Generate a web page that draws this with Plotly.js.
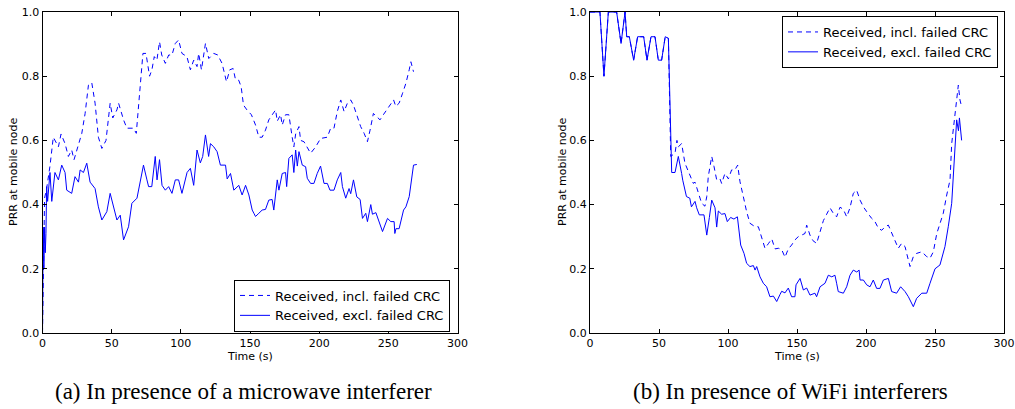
<!DOCTYPE html>
<html>
<head>
<meta charset="utf-8">
<script src="https://cdn.plot.ly/plotly-3.0.1.min.js"></script>
<style>html,body{margin:0;padding:0;background:#fff;}#chart{width:1015px;height:409px;}</style>
</head>
<body>
<div id="chart"></div>
<script>
// ---- (a) microwave interferer ----
const a_excl_t = [0,0.5,1,1.5,2,2.5,3,3.7,5.4,6.7,9,11.5,13.9,16.3,17.5,21.1,23.5,26,27.2,29.6,32,34.4,38,40.4,42.9,46.5,48.9,51.3,53.8,56.2,58.6,62.2,64.6,68.3,70.7,73,75.5,76.7,79,81.5,82.8,84.6,86.4,88.8,91.2,93.6,96,98.4,100.8,104.5,106.9,109.3,111.7,114.1,115.8,117.8,120.1,121.4,123.8,126.2,128.6,132.3,133.5,135.9,138.3,141.9,144.3,146.8,149.2,151.6,152.8,154,156.4,158.8,161.2,163.6,166,167.2,169.7,170.9,173.3,175.7,176.5,178.1,180.5,181.7,183,184.2,185.4,187.8,190.2,191.4,193.8,196.2,198.6,201,203.5,205.9,207.8,210.7,213.1,215.6,216.8,219.2,221.6,222.8,224.8,227.2,229.6,231.3,233.7,234.9,237.3,238.5,241,243.4,245.8,249.4,251.8,254.2,254.7,255.5,257.8,261,262.7,265.1,268.2,270.6];
const a_excl_v = [0,0.33,0.2,0.33,0.25,0.31,0.456,0.41,0.50,0.41,0.50,0.477,0.523,0.50,0.445,0.435,0.487,0.47,0.508,0.50,0.529,0.47,0.45,0.393,0.352,0.378,0.435,0.393,0.352,0.367,0.29,0.331,0.404,0.42,0.477,0.523,0.477,0.456,0.456,0.55,0.477,0.54,0.46,0.445,0.456,0.435,0.477,0.477,0.435,0.50,0.513,0.46,0.57,0.53,0.55,0.617,0.55,0.59,0.58,0.565,0.523,0.523,0.48,0.497,0.445,0.46,0.43,0.46,0.43,0.383,0.373,0.363,0.373,0.383,0.385,0.414,0.416,0.383,0.477,0.445,0.497,0.50,0.456,0.544,0.555,0.50,0.57,0.52,0.565,0.523,0.518,0.482,0.466,0.466,0.497,0.52,0.466,0.466,0.445,0.445,0.477,0.50,0.456,0.42,0.45,0.434,0.477,0.424,0.416,0.357,0.373,0.347,0.40,0.37,0.375,0.347,0.316,0.357,0.347,0.347,0.31,0.325,0.325,0.383,0.393,0.425,0.523,0.525];
const a_incl_t = [0,0.7,1.5,3,5.4,7.8,11.5,13.4,16.3,18.7,21.1,22.8,25.9,28.4,30.8,33.2,35.6,38,40.4,42.9,45.9,48.9,50.8,53.8,55,58.6,61,65.8,67.8,70.7,72.6,74.8,77.4,79.1,80.8,82.7,84.6,86.2,88.8,91.2,93.6,96,98.4,100.8,104.4,106.9,109.3,111.7,112.9,114.9,117.8,120.2,123.8,126.7,129.8,133,135.4,137.8,139.5,141.9,143.6,145.3,147.8,151,154,156.4,158.8,161.2,163.6,166.1,168.5,169.7,172.1,173.3,175.7,178.1,179.3,180.5,181.7,183,185.4,186.6,189,191.4,193.8,197.5,201,205.9,208.3,210.7,213.1,215.6,218,220.4,222.8,224.8,227.7,230,232.5,234.9,236.8,239.2,241.6,244,246.4,248.9,251.3,253.8,255.4,257.8,260.3,262.7,265.1,266.3,268.2];
const a_incl_v = [0,0.3,0.42,0.45,0.52,0.61,0.58,0.62,0.59,0.55,0.57,0.54,0.59,0.622,0.684,0.772,0.78,0.716,0.61,0.575,0.60,0.716,0.67,0.695,0.716,0.664,0.638,0.638,0.622,0.767,0.871,0.871,0.80,0.82,0.861,0.85,0.907,0.866,0.84,0.866,0.866,0.902,0.913,0.871,0.861,0.82,0.85,0.83,0.871,0.82,0.902,0.855,0.871,0.866,0.84,0.783,0.82,0.824,0.79,0.787,0.767,0.71,0.695,0.68,0.648,0.61,0.61,0.632,0.664,0.68,0.695,0.66,0.68,0.648,0.68,0.68,0.638,0.61,0.58,0.62,0.643,0.60,0.596,0.58,0.56,0.58,0.606,0.61,0.638,0.638,0.69,0.726,0.69,0.716,0.726,0.71,0.674,0.643,0.622,0.596,0.632,0.684,0.674,0.664,0.68,0.695,0.71,0.726,0.706,0.716,0.747,0.778,0.82,0.845,0.814];

// ---- (b) WiFi interferers ----
const b_excl_t = [0,7.2,10.1,13.3,19.3,22.5,25.4,26.6,28.5,31.6,34.5,38.9,41.3,44.2,47.1,49.5,51.9,54.5,56.8,59.2,61.6,64,66.4,67.2,69.9,72.3,73.5,76.1,77.3,79.2,82.6,84.6,86.5,88.2,90.6,91.8,93,95.4,97.8,99.5,101.9,104.3,106.8,109.2,111.6,113.5,115.9,118.4,119.6,120.8,123.2,125.6,128,129.3,130.4,132.9,135.3,137.7,138.9,141.3,143.7,146.1,148.5,149.3,152.2,154.6,157,159.4,163,164.2,166.7,170.3,172.7,175.2,177.5,178.7,179.9,183.6,186,188.4,190.8,193.3,195,195.7,198.1,200.5,202.9,205.3,207.7,210.1,212.6,216.2,218.6,222.2,225.1,228.3,230.7,234.3,236.7,240.4,244,246.4,250,253.6,257.2,259.6,262.1,265.7,267,267.7,269.3];
const b_excl_v = [1.0,1.0,0.80,1.0,1.0,0.902,1.0,0.923,0.923,0.85,0.923,0.923,0.85,0.923,0.923,0.85,0.85,0.923,0.918,0.50,0.50,0.55,0.497,0.476,0.425,0.42,0.393,0.41,0.39,0.368,0.368,0.305,0.36,0.414,0.39,0.33,0.38,0.37,0.372,0.347,0.36,0.355,0.362,0.274,0.248,0.217,0.207,0.21,0.196,0.207,0.175,0.155,0.144,0.13,0.113,0.115,0.098,0.12,0.13,0.125,0.14,0.113,0.113,0.15,0.17,0.134,0.14,0.118,0.124,0.113,0.144,0.155,0.18,0.175,0.18,0.155,0.129,0.124,0.144,0.18,0.196,0.19,0.196,0.165,0.165,0.15,0.144,0.165,0.139,0.139,0.165,0.17,0.129,0.124,0.144,0.129,0.113,0.082,0.108,0.124,0.124,0.155,0.20,0.212,0.269,0.331,0.404,0.664,0.63,0.67,0.60];
const b_incl_t = [0,7.2,10.1,13.3,19.3,22.5,25.4,26.6,28.5,31.6,34.5,38.9,41.3,44.2,47.1,49.5,51.9,54.5,56.8,58.5,61.6,63,64,66.4,68.8,72.5,74.9,76.1,78.5,80.9,83.3,84.6,85.7,88.2,89.9,91.8,94.2,95.4,97.8,100.3,102.6,105,107,108.7,111.1,113.5,115.9,119.6,122,124.4,126.8,129.2,131.7,134.1,136.5,138.9,141.3,143.7,146.1,148.5,150.9,153.4,155.8,157,159.4,161.5,164.2,166.7,169.1,171.5,173.9,176.3,178.7,181.2,183.6,186,188.4,190.8,193.2,195.7,198.1,200.5,204.1,206.5,209,211.4,213.8,216.2,218.6,221,223.4,225.8,228.3,230.7,231.9,234.3,236.7,240.4,244,246.4,248.8,251.3,253.6,256,258.5,260.9,262.1,264.5,266.9,268.1,269.3];
const b_incl_v = [1.0,1.0,0.80,1.0,1.0,0.902,1.0,0.923,0.923,0.85,0.923,0.923,0.85,0.923,0.923,0.85,0.85,0.923,0.918,0.55,0.56,0.60,0.58,0.59,0.529,0.487,0.466,0.47,0.44,0.404,0.395,0.425,0.487,0.55,0.518,0.477,0.48,0.466,0.497,0.48,0.508,0.508,0.523,0.471,0.425,0.378,0.342,0.331,0.331,0.30,0.264,0.278,0.293,0.262,0.264,0.26,0.236,0.262,0.274,0.29,0.30,0.305,0.31,0.336,0.305,0.288,0.279,0.315,0.35,0.37,0.39,0.373,0.362,0.392,0.385,0.362,0.39,0.435,0.445,0.414,0.393,0.378,0.357,0.347,0.326,0.32,0.331,0.336,0.31,0.29,0.264,0.279,0.269,0.227,0.207,0.238,0.248,0.253,0.238,0.233,0.253,0.31,0.342,0.373,0.43,0.477,0.59,0.684,0.772,0.726,0.705];

const seriesNames = ['Received, incl. failed CRC', 'Received, excl. failed CRC'];
const xTicks = [0, 50, 100, 150, 200, 250, 300];
const yTicks = [0.0, 0.2, 0.4, 0.6, 0.8, 1.0];
const captions = ['(a) In presence of a microwave interferer', '(b) In presence of WiFi interferers'];
const xTitle = 'Time (s)';
const yTitle = 'PRR at mobile node';

const W = 1015, H = 409;
const BLUE = '#0000ff';
const dashPat = '5px,4px';
const tickFont = {family: 'DejaVu Sans', size: 11, color: '#000'};
const labelFont = {family: 'DejaVu Sans', size: 11, color: '#000'};
const capFont = {family: 'Liberation Serif', size: 23, color: '#000'};

const traces = [
  {x: a_incl_t, y: a_incl_v, name: seriesNames[0], mode: 'lines', line: {color: BLUE, width: 1, dash: dashPat}, xaxis: 'x', yaxis: 'y', legend: 'legend'},
  {x: a_excl_t, y: a_excl_v, name: seriesNames[1], mode: 'lines', line: {color: BLUE, width: 1}, xaxis: 'x', yaxis: 'y', legend: 'legend'},
  {x: b_incl_t, y: b_incl_v, name: seriesNames[0], mode: 'lines', line: {color: BLUE, width: 1, dash: dashPat}, xaxis: 'x2', yaxis: 'y2', legend: 'legend2'},
  {x: b_excl_t, y: b_excl_v, name: seriesNames[1], mode: 'lines', line: {color: BLUE, width: 1}, xaxis: 'x2', yaxis: 'y2', legend: 'legend2'}
];

const yDom = [(H - 333) / H, (H - 12) / H];
function xa(dom) {
  return {domain: dom, range: [0, 300], tickvals: xTicks, ticktext: xTicks.map(String),
    ticks: 'inside', ticklen: 4, tickcolor: '#000', showline: true, linecolor: '#000', linewidth: 1,
    mirror: 'ticks', showgrid: false, zeroline: false, tickfont: tickFont, fixedrange: true};
}
function ya(anchor) {
  return {domain: yDom, range: [0, 1], anchor: anchor, tickvals: yTicks, ticktext: yTicks.map(v => v.toFixed(1)),
    ticks: 'inside', ticklen: 4, tickcolor: '#000', showline: true, linecolor: '#000', linewidth: 1,
    mirror: 'ticks', showgrid: false, zeroline: false, tickfont: tickFont, fixedrange: true};
}
const legendBase = {bgcolor: '#fff', bordercolor: '#000', borderwidth: 1,
  font: {family: 'DejaVu Sans', size: 13, color: '#000'}, tracegroupgap: 0, itemwidth: 30};

function ann(text, x, y, font, angle) {
  return {text: text, xref: 'paper', yref: 'paper', x: x / W, y: (H - y) / H, xanchor: 'center', yanchor: 'middle',
    textangle: angle || 0, showarrow: false, font: font};
}

const layout = {
  width: W, height: H, margin: {l: 0, r: 0, t: 0, b: 0},
  paper_bgcolor: '#fff', plot_bgcolor: '#fff', showlegend: true, hovermode: false,
  xaxis: Object.assign(xa([42.5 / W, 457.5 / W]), {anchor: 'y'}),
  yaxis: ya('x'),
  xaxis2: Object.assign(xa([590 / W, 1004 / W]), {anchor: 'y2'}),
  yaxis2: ya('x2'),
  legend: Object.assign({}, legendBase, {x: 450 / W, xanchor: 'right', y: (H - 305.5) / H, yanchor: 'middle'}),
  legend2: Object.assign({}, legendBase, {x: 998 / W, xanchor: 'right', y: (H - 16) / H, yanchor: 'top'}),
  annotations: [
    ann(xTitle, 250, 356, labelFont),
    ann(xTitle, 797, 356, labelFont),
    ann(yTitle, 13, 172, labelFont, -90),
    ann(yTitle, 562, 172, labelFont, -90),
    ann(captions[0], 243.5, 391, capFont),
    ann(captions[1], 790.5, 391, capFont)
  ]
};

Plotly.newPlot('chart', traces, layout, {displayModeBar: false, staticPlot: true});
</script>
</body>
</html>
